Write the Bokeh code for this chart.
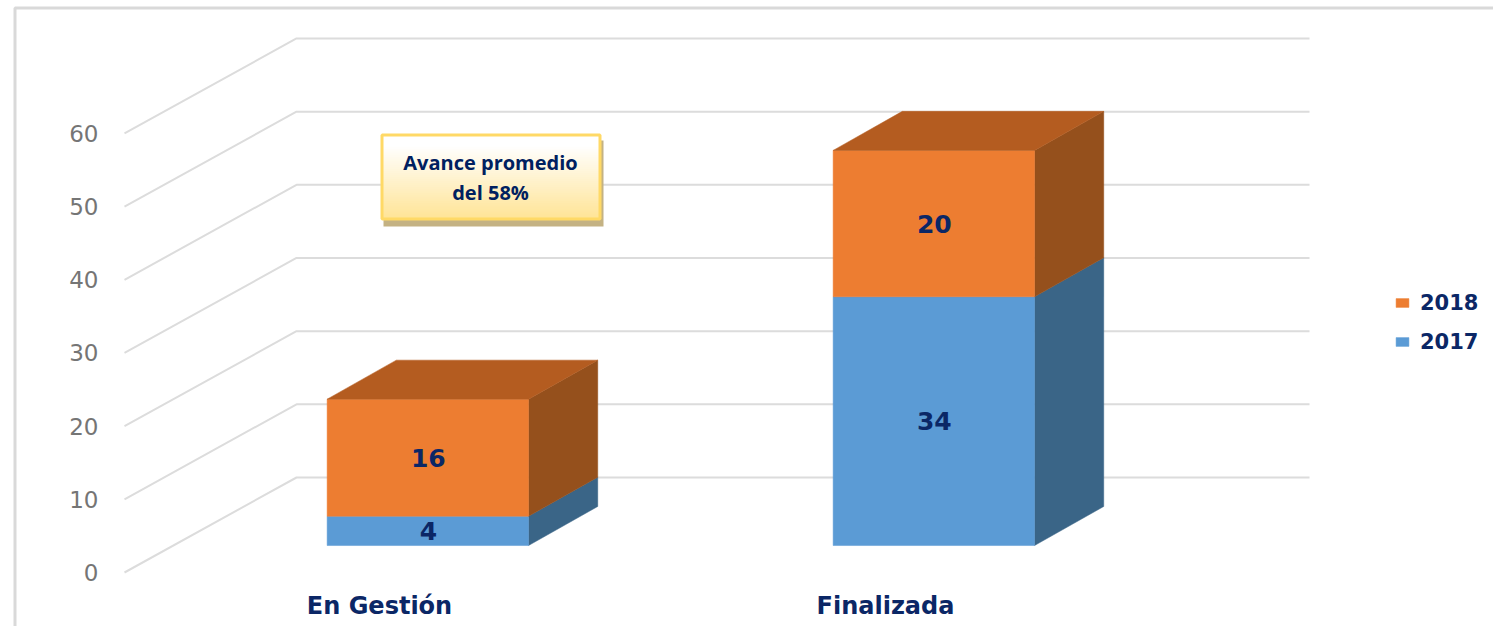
from bokeh.plotting import figure
from bokeh.models import (LinearAxis, FixedTicker, Range1d, Legend, LegendItem, ColumnDataSource)
from bokeh.core.properties import value
from bokeh.embed import file_html
from bokeh.resources import INLINE

categories = ["En Gestión", "Finalizada"]
series_names = ["2017", "2018"]
values_2017 = [4, 34]
values_2018 = [16, 20]
y_ticks = [0, 10, 20, 30, 40, 50, 60]
note_lines = ["Avance promedio", "del 58%"]

W, H = 1501, 634
PAD = 8                              # the part of the figure hidden behind the picture's edge
ORIGIN_X, ORIGIN_Y = 379, 572        # px of category 0, value 0 on the front plane
PX_PER_CAT, PX_PER_VAL = 506, 7.317


def X(px):
    return (px - ORIGIN_X) / PX_PER_CAT


def Y(py):
    return (ORIGIN_Y - py) / PX_PER_VAL


WALL_DX = 172 / PX_PER_CAT
WALL_DY = 95 / PX_PER_VAL
D_FRONT, D_BACK = 0.284, 0.695
HALF_L, HALF_R = 0.2, 0.198
BACK_TRIM = 1.5 / PX_PER_CAT
LEFT, RIGHT = X(124), X(1309) - WALL_DX


def proj(x, v, d):
    return x + d * WALL_DX, v + d * WALL_DY


p = figure(width=W, height=H, output_backend="svg", toolbar_location=None,
           x_range=Range1d(X(-PAD), X(W - PAD)), y_range=Range1d(Y(H - PAD), Y(-PAD)),
           x_axis_type=None, y_axis_type=None, min_border=0, margin=(-PAD, 0, 0, -PAD),
           outline_line_color=None, background_fill_color="white", border_fill_color="white")
p.grid.visible = False

# outer frame of the picture
p.line([X(14.5), X(14.5), X(1501)], [Y(634), Y(7.5), Y(7.5)], line_color="#d9d9d9", line_width=3)

# gridlines on the side and back walls
gx, gy = [], []
for t in y_ticks:
    x0, v0 = proj(LEFT, t, 0)
    x1, v1 = proj(LEFT, t, 1)
    x2, v2 = proj(RIGHT, t, 1)
    gx.append([x0, x1, x2])
    gy.append([v0, v1, v2])
p.multi_line(gx, gy, line_color="#dcdcdc", line_width=2)

# stacked 3D bars
FRONT = {"2017": "#5b9bd5", "2018": "#ed7d31"}
SIDE = {"2017": "#3a6587", "2018": "#95501c"}
TOP = {"2018": "#b45c20"}
legend_renderers = {}
for name, vals, bases in [("2017", values_2017, [0, 0]),
                          ("2018", values_2018, values_2017)]:
    fx, fy, sx, sy, tx, ty = [], [], [], [], [], []
    for i, (b, h) in enumerate(zip(bases, vals)):
        l, r = i - HALF_L, i + HALF_R
        a = [proj(l, b, D_FRONT), proj(r, b, D_FRONT), proj(r, b + h, D_FRONT), proj(l, b + h, D_FRONT)]
        fx.append([q[0] for q in a])
        fy.append([q[1] for q in a])
        c = [proj(r, b, D_FRONT), proj(r - BACK_TRIM, b, D_BACK), proj(r - BACK_TRIM, b + h, D_BACK), proj(r, b + h, D_FRONT)]
        sx.append([q[0] for q in c])
        sy.append([q[1] for q in c])
        e = [proj(l, b + h, D_FRONT), proj(r, b + h, D_FRONT), proj(r - BACK_TRIM, b + h, D_BACK), proj(l - BACK_TRIM, b + h, D_BACK)]
        tx.append([q[0] for q in e])
        ty.append([q[1] for q in e])
    p.patches(sx, sy, fill_color=SIDE[name], line_color=SIDE[name], line_width=0.5)
    legend_renderers[name] = p.patches(fx, fy, fill_color=FRONT[name], line_color=FRONT[name], line_width=0.5)
    if name in TOP:
        p.patches(tx, ty, fill_color=TOP[name], line_color=TOP[name], line_width=0.5)
    labels = ColumnDataSource(dict(
        x=[proj(i, 0, D_FRONT)[0] for i in range(len(vals))],
        y=[proj(0, b + h / 2, D_FRONT)[1] for b, h in zip(bases, vals)],
        t=[str(h) for h in vals]))
    p.text("x", "y", "t", source=labels, text_font=value("DejaVu Sans"), text_font_style="bold",
           text_font_size="25px", text_color="#0b2766", text_align="center", text_baseline="middle")

# note box: shadow, gradient body, border, text
p.quad(left=X(383), right=X(603), top=Y(140), bottom=Y(226), fill_color="#c4b283", line_color=None)
STRIPS = 42
top_c, bot_c = (255, 255, 255), (255, 228, 150)
for k in range(STRIPS):
    f = k / (STRIPS - 1)
    g = max(0.0, (f - 0.12) / 0.88)
    col = "#%02x%02x%02x" % tuple(round(a + (b - a) * g) for a, b in zip(top_c, bot_c))
    y0 = 134 + (219 - 134) * k / STRIPS
    y1 = 134 + (219 - 134) * (k + 1) / STRIPS
    p.quad(left=X(381), right=X(600), top=Y(y0), bottom=Y(min(y1 + 1.5, 219)), fill_color=col, line_color=None)
p.quad(left=X(381.5), right=X(599.5), top=Y(134.5), bottom=Y(218.5), fill_color=None,
       line_color="#ffd966", line_width=3)
p.text([X(490), X(490)], [Y(162), Y(192)], note_lines, text_font=value("Open Sans"),
       text_font_style="bold", text_font_size="20px", text_color="#002060",
       text_align="center", text_baseline="middle")

# axes
yaxis = LinearAxis(ticker=FixedTicker(ticks=y_ticks), fixed_location=LEFT,
                   axis_line_color=None, major_tick_line_color=None, minor_tick_line_color=None,
                   major_label_text_font="DejaVu Sans", major_label_text_font_size="23px",
                   major_label_text_color="#757575", major_label_standoff=20)
p.add_layout(yaxis, "left")
xaxis = LinearAxis(ticker=FixedTicker(ticks=list(range(len(categories)))), fixed_location=Y(582),
                   major_label_overrides={i: c for i, c in enumerate(categories)},
                   axis_line_color=None, major_tick_line_color=None, minor_tick_line_color=None,
                   major_label_text_font="DejaVu Sans", major_label_text_font_style="bold",
                   major_label_text_font_size="24px", major_label_text_color="#0b2766",
                   major_label_standoff=3)
p.add_layout(xaxis, "below")

legend = Legend(items=[LegendItem(label=n, renderers=[legend_renderers[n]]) for n in reversed(series_names)],
                location=(1402, 271), orientation="vertical", background_fill_alpha=0,
                border_line_color=None, glyph_width=16, glyph_height=11, label_standoff=10,
                spacing=12, margin=0, padding=8, label_height=27,
                label_text_font="DejaVu Sans", label_text_font_style="bold",
                label_text_font_size="21px", label_text_color="#0b2766")
p.add_layout(legend, "center")

open("out.html", "w").write(file_html(p, INLINE))
